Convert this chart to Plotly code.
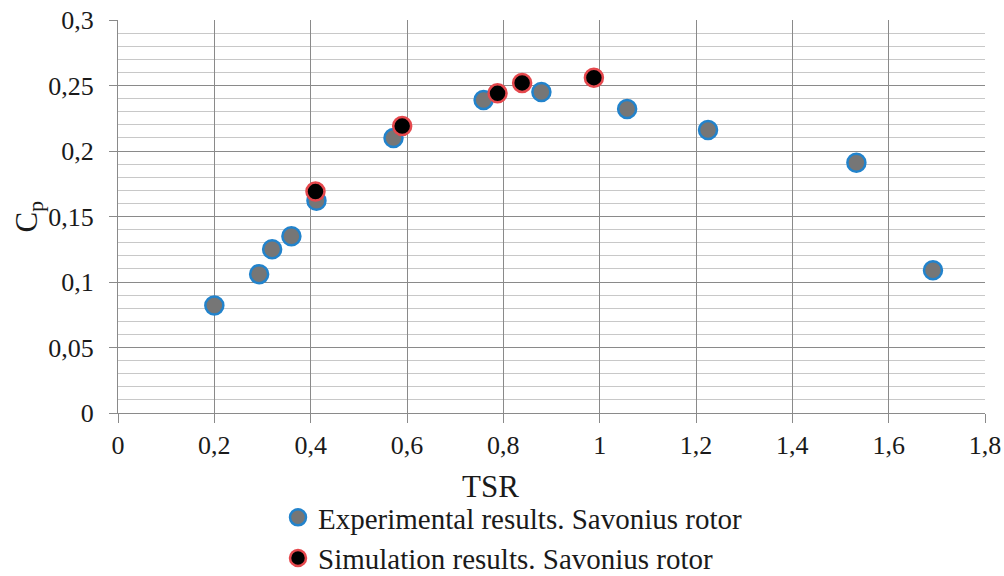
import plotly.graph_objects as go

# Experimental Cp vs TSR
exp_tsr = [0.200, 0.293, 0.320, 0.360, 0.412, 0.572, 0.759, 0.879, 1.057, 1.225, 1.533, 1.692]
exp_cp = [0.082, 0.106, 0.125, 0.135, 0.162, 0.210, 0.239, 0.245, 0.232, 0.216, 0.191, 0.109]

# Simulated Cp vs TSR
sim_tsr = [0.410, 0.590, 0.788, 0.839, 0.988]
sim_cp = [0.169, 0.219, 0.244, 0.252, 0.256]

x_ticks = [0, 0.2, 0.4, 0.6, 0.8, 1.0, 1.2, 1.4, 1.6, 1.8]
x_tick_text = ["0", "0,2", "0,4", "0,6", "0,8", "1", "1,2", "1,4", "1,6", "1,8"]
y_ticks = [0, 0.05, 0.10, 0.15, 0.20, 0.25, 0.30]
y_tick_text = ["0", "0,05", "0,1", "0,15", "0,2", "0,25", "0,3"]

FONT = "Liberation Serif"

fig = go.Figure()
fig.add_trace(go.Scatter(
    x=exp_tsr, y=exp_cp, mode="markers",
    name="Experimental results. Savonius rotor",
    marker=dict(size=18, color="#767676", line=dict(color="#2283cc", width=2.5)),
))
fig.add_trace(go.Scatter(
    x=sim_tsr, y=sim_cp, mode="markers",
    name="Simulation results. Savonius rotor",
    marker=dict(size=18, color="#000000", line=dict(color="#e5484d", width=2.5)),
))

fig.update_xaxes(
    range=[0, 1.8], tickvals=x_ticks, ticktext=x_tick_text,
    showgrid=True, gridcolor="#8a8a8a", gridwidth=1,
    showline=True, linecolor="#8a8a8a", linewidth=1,
    ticks="outside", ticklen=9, tickcolor="#8a8a8a",
    tickfont=dict(family=FONT, size=26, color="#1a1a1a"),
    zeroline=False, automargin=False,
)
fig.update_yaxes(
    range=[0, 0.3], tickvals=y_ticks, ticktext=y_tick_text,
    showgrid=True, gridcolor="#8a8a8a", gridwidth=1,
    minor=dict(dtick=0.01, showgrid=True, gridcolor="#c8c8c8", gridwidth=1),
    showline=True, linecolor="#8a8a8a", linewidth=1,
    ticks="outside", ticklen=8, tickcolor="#8a8a8a",
    tickfont=dict(family=FONT, size=26, color="#1a1a1a"),
    ticklabelstandoff=10,
    zeroline=False, automargin=False,
)

# Axis titles
fig.add_annotation(
    text="TSR", xref="paper", yref="paper",
    x=(490 - 118) / 867, y=-73 / 393, xanchor="center", yanchor="middle",
    showarrow=False, font=dict(family=FONT, size=31, color="#1a1a1a"),
)
fig.add_annotation(
    text="C<sub>p</sub>", xref="paper", yref="paper",
    x=-90 / 867, y=0.5, xanchor="center", yanchor="middle", textangle=-90,
    showarrow=False, font=dict(family=FONT, size=31, color="#1a1a1a"),
)

fig.update_layout(
    width=1004, height=576,
    margin=dict(l=118, r=19, t=20, b=163, autoexpand=False),
    paper_bgcolor="white", plot_bgcolor="white",
    showlegend=True,
    legend=dict(
        xref="container", yref="container",
        x=278 / 1004, y=1 - 492 / 576, xanchor="left", yanchor="top",
        font=dict(family=FONT, size=29, color="#1a1a1a"),
        bgcolor="rgba(0,0,0,0)", itemwidth=30, tracegroupgap=0,
    ),
)

fig.write_html("out.html")
